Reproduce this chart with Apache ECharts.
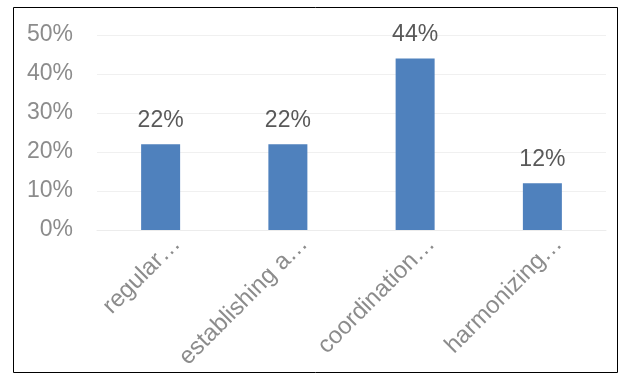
<!DOCTYPE html>
<html>
<head>
<meta charset="utf-8">
<script src="https://cdn.jsdelivr.net/npm/echarts@6/dist/echarts.min.js"></script>
<style>
html,body{margin:0;padding:0;background:#fff;}
#main{width:620px;height:376px;}
</style>
</head>
<body>
<div id="main"></div>
<script>
// categories (truncated as in the picture) and shares in %
var categories = ['regular\u2026', 'establishing a\u2026', 'coordination\u2026', 'harmonizing\u2026'];
var shares = [22, 22, 44, 12];
var yTicks = [0, 10, 20, 30, 40, 50];

var chart = echarts.init(document.getElementById('main'));
chart.setOption({
  backgroundColor: '#fff',
  animation: false,
  textStyle: { fontFamily: 'Liberation Sans, Arial, sans-serif' },
  graphic: [{
    type: 'rect',
    shape: { x: 13.5, y: 7.5, width: 604, height: 365 },
    style: { fill: 'none', stroke: '#000', lineWidth: 1 }
  }],
  grid: { left: 97, right: 14, top: 35, bottom: 146, containLabel: false, outerBoundsMode: 'none' },
  xAxis: {
    type: 'category',
    data: categories,
    axisLine: { show: true, lineStyle: { color: '#ececec' } },
    axisTick: { show: false },
    axisLabel: {
      rotate: 45,
      color: '#8c8c8c',
      fontSize: 24,
      lineHeight: 46,
      margin: -6,
      verticalAlign: 'top',
      interval: 0
    }
  },
  yAxis: {
    type: 'value',
    min: yTicks[0],
    max: yTicks[yTicks.length - 1],
    interval: 10,
    axisLine: { show: false },
    axisTick: { show: false },
    splitLine: { lineStyle: { color: '#f0f0f0' } },
    axisLabel: {
      color: '#8c8c8c',
      fontSize: 23,
      margin: 24,
      formatter: '{value}%'
    }
  },
  series: [{
    type: 'bar',
    data: shares,
    barWidth: 39,
    itemStyle: { color: '#4f81bd' },
    label: {
      show: true,
      position: 'top',
      distance: 12,
      color: '#595959',
      fontSize: 23,
      formatter: '{c}%'
    }
  }]
});
</script>
</body>
</html>
